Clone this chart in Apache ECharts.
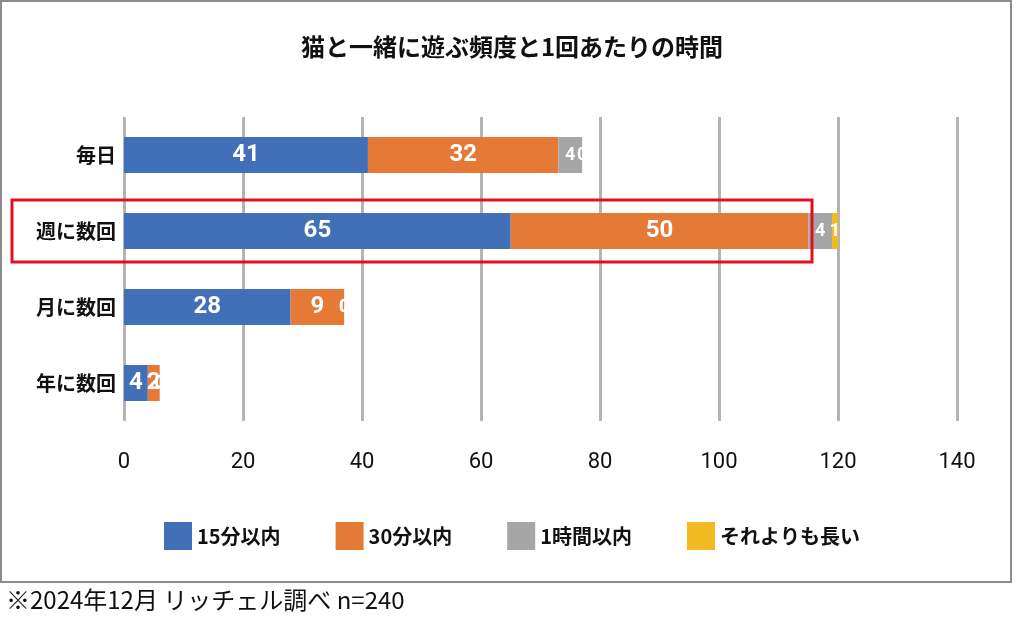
<!DOCTYPE html>
<html><head><meta charset="utf-8">
<script src="https://cdn.jsdelivr.net/npm/echarts@6/dist/echarts.min.js"></script>
<style>body{margin:0;background:#fff}#c{width:1024px;height:627px}</style>
</head><body><div id="c"></div>
<script>
var categories = ['毎日', '週に数回', '月に数回', '年に数回'];
var seriesNames = ['15分以内', '30分以内', '1時間以内', 'それよりも長い'];
var min15 = [41, 65, 28, 4];
var min30 = [32, 50, 9, 2];
var hour1 = [4, 4, 0, 0];
var longer = [0, 1, 0, 0];
var colors = ['#4170b8', '#e57a36', '#a6a6a6', '#f3b921'];
var font = '"Noto Sans CJK JP", sans-serif';

var chart = echarts.init(document.getElementById('c'));
function mk(i, data, size) {
  return {
    name: seriesNames[i], type: 'bar', stack: 'a', data: data, barWidth: 36,
    itemStyle: {color: colors[i]},
    label: {show: true, color: '#fff', fontSize: size, fontWeight: 'bold', fontFamily: 'Roboto, sans-serif'}
  };
}
chart.setOption({
  animation: false,
  title: {text: '猫と一緒に遊ぶ頻度と1回あたりの時間', left: 'center', top: 30,
    textStyle: {fontSize: 24, fontWeight: 'bold', color: '#111', fontFamily: font}},
  legend: {bottom: 72, itemWidth: 28, itemHeight: 28, itemGap: 55, icon: 'rect',
    textStyle: {fontSize: 20, fontWeight: 'bold', color: '#111', fontFamily: font}},
  grid: {left: 124, right: 67, top: 117, bottom: 206},
  xAxis: {type: 'value', min: 0, max: 140, interval: 20,
    axisLine: {show: false}, axisTick: {show: false},
    splitLine: {lineStyle: {color: '#b4b4b4', width: 3}},
    axisLabel: {fontSize: 22, color: '#111', margin: 30, fontFamily: 'Roboto, sans-serif'}},
  yAxis: {type: 'category', data: categories, inverse: true,
    axisLine: {show: false}, axisTick: {show: false},
    axisLabel: {fontSize: 20, fontWeight: 'bold', color: '#111', margin: 8, fontFamily: font}},
  series: [mk(0, min15, 24), mk(1, min30, 24), mk(2, hour1, 18), mk(3, longer, 18)],
  graphic: [
    {type: 'rect', shape: {x: 1, y: 1, width: 1010, height: 581},
      style: {fill: 'none', stroke: '#8c8c8c', lineWidth: 2}},
    {type: 'rect', shape: {x: 12, y: 200, width: 800, height: 62},
      style: {fill: 'none', stroke: '#e0101e', lineWidth: 3}, z: 10},
    {type: 'text', left: 6, top: 588,
      style: {text: '※2024年12月 リッチェル調べ n=240', fontSize: 24, fill: '#111', fontFamily: font}}
  ]
});
</script></body></html>
